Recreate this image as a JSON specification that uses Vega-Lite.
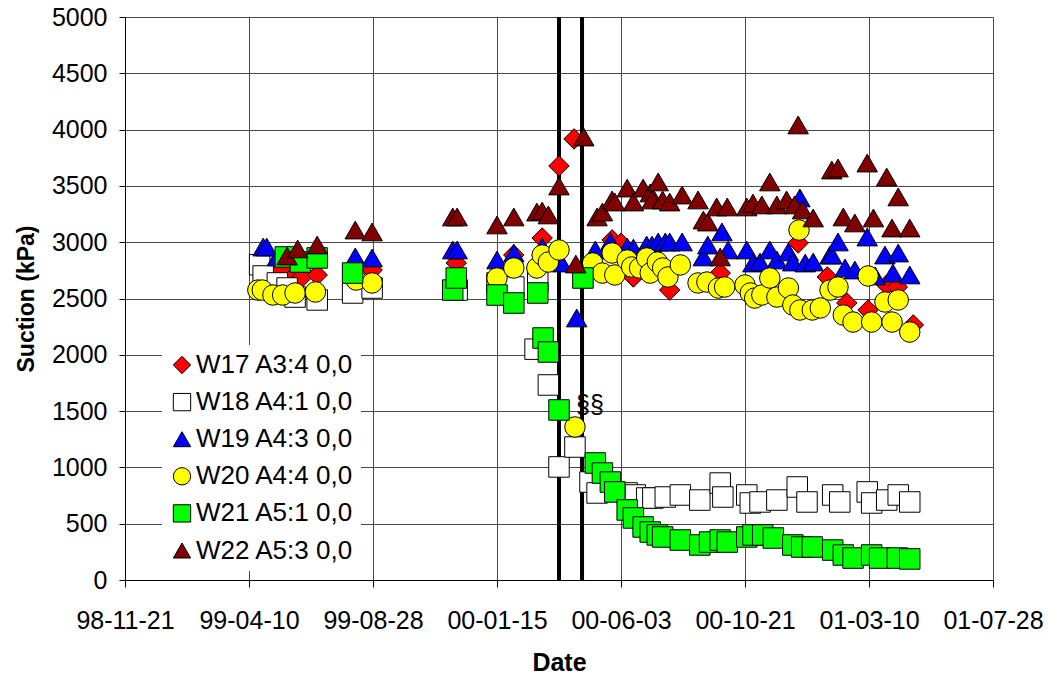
{
  "$schema": "https://vega.github.io/schema/vega-lite/v6.json",
  "width": 868,
  "height": 563,
  "autosize": {"type": "none"},
  "padding": {"left": 125, "top": 17, "right": 55, "bottom": 97},
  "background": "white",
  "config": {
    "font": "Liberation Sans",
    "view": {"stroke": null},
    "axis": {
      "domainColor": "black",
      "tickColor": "black",
      "gridColor": "#4a4a4a",
      "gridWidth": 1,
      "labelColor": "black",
      "titleColor": "black",
      "labelFont": "Liberation Sans",
      "titleFont": "Liberation Sans"
    }
  },
  "encoding": {
    "x": {
      "field": "d", "type": "temporal",
      "scale": {"type": "utc", "domain": [{"year": 1998, "month": 11, "date": 21, "utc": true}, {"year": 2001, "month": 7, "date": 28, "utc": true}]},
      "axis": {
        "title": "Date",
        "titleFontSize": 25, "titleFontWeight": "bold", "titlePadding": 17,
        "labelExpr": "utcFormat(datum.value, '%y-%m-%d')",
        "labelFontSize": 25, "labelPadding": 21, "tickSize": 7,
        "labelOverlap": false, "labelFlush": false,
        "values": [
          {"year": 1998, "month": 11, "date": 21, "utc": true},
          {"year": 1999, "month": 4, "date": 10, "utc": true},
          {"year": 1999, "month": 8, "date": 28, "utc": true},
          {"year": 2000, "month": 1, "date": 15, "utc": true},
          {"year": 2000, "month": 6, "date": 3, "utc": true},
          {"year": 2000, "month": 10, "date": 21, "utc": true},
          {"year": 2001, "month": 3, "date": 10, "utc": true},
          {"year": 2001, "month": 7, "date": 28, "utc": true}
        ]
      }
    }
  },
  "layer": [
    {
      "data": {"values": [{"d": "2000-03-25"}, {"d": "2000-04-20"}]},
      "mark": {"type": "rule", "color": "black", "strokeWidth": 4},
      "encoding": {}
    },
    {
      "data": {"values": [
        {"s": "W17 A3:4 0,0", "d": "1999-05-17", "v": 2753},
        {"s": "W17 A3:4 0,0", "d": "1999-05-30", "v": 2691},
        {"s": "W17 A3:4 0,0", "d": "1999-06-09", "v": 2691},
        {"s": "W17 A3:4 0,0", "d": "1999-06-26", "v": 2709},
        {"s": "W17 A3:4 0,0", "d": "1999-08-27", "v": 2753},
        {"s": "W17 A3:4 0,0", "d": "1999-11-30", "v": 2815},
        {"s": "W17 A3:4 0,0", "d": "2000-02-03", "v": 2886},
        {"s": "W17 A3:4 0,0", "d": "2000-03-06", "v": 3037},
        {"s": "W17 A3:4 0,0", "d": "2000-03-25", "v": 3677},
        {"s": "W17 A3:4 0,0", "d": "2000-04-11", "v": 3917},
        {"s": "W17 A3:4 0,0", "d": "2000-05-24", "v": 3020},
        {"s": "W17 A3:4 0,0", "d": "2000-06-03", "v": 2990},
        {"s": "W17 A3:4 0,0", "d": "2000-06-17", "v": 2691},
        {"s": "W17 A3:4 0,0", "d": "2000-07-28", "v": 2575},
        {"s": "W17 A3:4 0,0", "d": "2000-09-23", "v": 2726},
        {"s": "W17 A3:4 0,0", "d": "2000-12-20", "v": 2993},
        {"s": "W17 A3:4 0,0", "d": "2001-01-22", "v": 2691},
        {"s": "W17 A3:4 0,0", "d": "2001-02-13", "v": 2460},
        {"s": "W17 A3:4 0,0", "d": "2001-03-09", "v": 2398},
        {"s": "W17 A3:4 0,0", "d": "2001-03-30", "v": 2620},
        {"s": "W17 A3:4 0,0", "d": "2001-04-11", "v": 2602},
        {"s": "W17 A3:4 0,0", "d": "2001-04-29", "v": 2265},

        {"s": "W18 A4:1 0,0", "d": "1999-04-22", "v": 2800},
        {"s": "W18 A4:1 0,0", "d": "1999-04-26", "v": 2700},
        {"s": "W18 A4:1 0,0", "d": "1999-05-12", "v": 2638},
        {"s": "W18 A4:1 0,0", "d": "1999-05-23", "v": 2593},
        {"s": "W18 A4:1 0,0", "d": "1999-06-01", "v": 2513},
        {"s": "W18 A4:1 0,0", "d": "1999-06-26", "v": 2487},
        {"s": "W18 A4:1 0,0", "d": "1999-08-05", "v": 2549},
        {"s": "W18 A4:1 0,0", "d": "1999-08-27", "v": 2593},
        {"s": "W18 A4:1 0,0", "d": "1999-12-01", "v": 2575},
        {"s": "W18 A4:1 0,0", "d": "2000-01-15", "v": 2638},
        {"s": "W18 A4:1 0,0", "d": "2000-02-03", "v": 2602},
        {"s": "W18 A4:1 0,0", "d": "2000-02-27", "v": 2050},
        {"s": "W18 A4:1 0,0", "d": "2000-03-01", "v": 2646},
        {"s": "W18 A4:1 0,0", "d": "2000-03-13", "v": 1732},
        {"s": "W18 A4:1 0,0", "d": "2000-03-25", "v": 1004},
        {"s": "W18 A4:1 0,0", "d": "2000-04-12", "v": 1181},
        {"s": "W18 A4:1 0,0", "d": "2000-04-29", "v": 870},
        {"s": "W18 A4:1 0,0", "d": "2000-05-07", "v": 773},
        {"s": "W18 A4:1 0,0", "d": "2000-06-10", "v": 773},
        {"s": "W18 A4:1 0,0", "d": "2000-06-19", "v": 755},
        {"s": "W18 A4:1 0,0", "d": "2000-07-02", "v": 728},
        {"s": "W18 A4:1 0,0", "d": "2000-07-09", "v": 728},
        {"s": "W18 A4:1 0,0", "d": "2000-07-23", "v": 737},
        {"s": "W18 A4:1 0,0", "d": "2000-08-09", "v": 755},
        {"s": "W18 A4:1 0,0", "d": "2000-08-31", "v": 710},
        {"s": "W18 A4:1 0,0", "d": "2000-09-23", "v": 861},
        {"s": "W18 A4:1 0,0", "d": "2000-09-26", "v": 737},
        {"s": "W18 A4:1 0,0", "d": "2000-10-23", "v": 755},
        {"s": "W18 A4:1 0,0", "d": "2000-10-27", "v": 684},
        {"s": "W18 A4:1 0,0", "d": "2000-11-07", "v": 693},
        {"s": "W18 A4:1 0,0", "d": "2000-11-26", "v": 710},
        {"s": "W18 A4:1 0,0", "d": "2000-12-19", "v": 826},
        {"s": "W18 A4:1 0,0", "d": "2000-12-30", "v": 693},
        {"s": "W18 A4:1 0,0", "d": "2001-01-28", "v": 755},
        {"s": "W18 A4:1 0,0", "d": "2001-02-05", "v": 693},
        {"s": "W18 A4:1 0,0", "d": "2001-03-08", "v": 782},
        {"s": "W18 A4:1 0,0", "d": "2001-03-13", "v": 684},
        {"s": "W18 A4:1 0,0", "d": "2001-03-30", "v": 710},
        {"s": "W18 A4:1 0,0", "d": "2001-04-12", "v": 755},
        {"s": "W18 A4:1 0,0", "d": "2001-04-25", "v": 693},

        {"s": "W19 A4:3 0,0", "d": "1999-04-26", "v": 2957},
        {"s": "W19 A4:3 0,0", "d": "1999-04-30", "v": 2957},
        {"s": "W19 A4:3 0,0", "d": "1999-05-12", "v": 2869},
        {"s": "W19 A4:3 0,0", "d": "1999-08-08", "v": 2869},
        {"s": "W19 A4:3 0,0", "d": "1999-08-27", "v": 2860},
        {"s": "W19 A4:3 0,0", "d": "1999-11-26", "v": 2931},
        {"s": "W19 A4:3 0,0", "d": "1999-12-01", "v": 2931},
        {"s": "W19 A4:3 0,0", "d": "2000-01-15", "v": 2842},
        {"s": "W19 A4:3 0,0", "d": "2000-02-03", "v": 2904},
        {"s": "W19 A4:3 0,0", "d": "2000-03-06", "v": 2957},
        {"s": "W19 A4:3 0,0", "d": "2000-03-28", "v": 2815},
        {"s": "W19 A4:3 0,0", "d": "2000-04-14", "v": 2327},
        {"s": "W19 A4:3 0,0", "d": "2000-05-05", "v": 2931},
        {"s": "W19 A4:3 0,0", "d": "2000-05-22", "v": 3002},
        {"s": "W19 A4:3 0,0", "d": "2000-06-10", "v": 2957},
        {"s": "W19 A4:3 0,0", "d": "2000-06-17", "v": 2948},
        {"s": "W19 A4:3 0,0", "d": "2000-07-02", "v": 2975},
        {"s": "W19 A4:3 0,0", "d": "2000-07-08", "v": 2975},
        {"s": "W19 A4:3 0,0", "d": "2000-07-15", "v": 3002},
        {"s": "W19 A4:3 0,0", "d": "2000-07-23", "v": 3002},
        {"s": "W19 A4:3 0,0", "d": "2000-07-28", "v": 3002},
        {"s": "W19 A4:3 0,0", "d": "2000-08-11", "v": 3002},
        {"s": "W19 A4:3 0,0", "d": "2000-09-04", "v": 2869},
        {"s": "W19 A4:3 0,0", "d": "2000-09-09", "v": 2975},
        {"s": "W19 A4:3 0,0", "d": "2000-09-25", "v": 3091},
        {"s": "W19 A4:3 0,0", "d": "2000-10-02", "v": 2931},
        {"s": "W19 A4:3 0,0", "d": "2000-10-23", "v": 2931},
        {"s": "W19 A4:3 0,0", "d": "2000-10-30", "v": 2815},
        {"s": "W19 A4:3 0,0", "d": "2000-11-07", "v": 2824},
        {"s": "W19 A4:3 0,0", "d": "2000-11-18", "v": 2931},
        {"s": "W19 A4:3 0,0", "d": "2000-11-26", "v": 2842},
        {"s": "W19 A4:3 0,0", "d": "2000-12-09", "v": 2913},
        {"s": "W19 A4:3 0,0", "d": "2000-12-14", "v": 2824},
        {"s": "W19 A4:3 0,0", "d": "2000-12-22", "v": 3393},
        {"s": "W19 A4:3 0,0", "d": "2000-12-28", "v": 2815},
        {"s": "W19 A4:3 0,0", "d": "2001-01-06", "v": 2824},
        {"s": "W19 A4:3 0,0", "d": "2001-01-25", "v": 2886},
        {"s": "W19 A4:3 0,0", "d": "2001-01-27", "v": 2886},
        {"s": "W19 A4:3 0,0", "d": "2001-02-03", "v": 3002},
        {"s": "W19 A4:3 0,0", "d": "2001-02-11", "v": 2771},
        {"s": "W19 A4:3 0,0", "d": "2001-02-22", "v": 2753},
        {"s": "W19 A4:3 0,0", "d": "2001-03-08", "v": 3046},
        {"s": "W19 A4:3 0,0", "d": "2001-03-17", "v": 2700},
        {"s": "W19 A4:3 0,0", "d": "2001-03-28", "v": 2886},
        {"s": "W19 A4:3 0,0", "d": "2001-04-06", "v": 2726},
        {"s": "W19 A4:3 0,0", "d": "2001-04-12", "v": 2904},
        {"s": "W19 A4:3 0,0", "d": "2001-04-25", "v": 2709},

        {"s": "W20 A4:4 0,0", "d": "1999-04-20", "v": 2575},
        {"s": "W20 A4:4 0,0", "d": "1999-04-25", "v": 2575},
        {"s": "W20 A4:4 0,0", "d": "1999-05-07", "v": 2531},
        {"s": "W20 A4:4 0,0", "d": "1999-05-18", "v": 2531},
        {"s": "W20 A4:4 0,0", "d": "1999-06-01", "v": 2549},
        {"s": "W20 A4:4 0,0", "d": "1999-06-24", "v": 2558},
        {"s": "W20 A4:4 0,0", "d": "1999-08-09", "v": 2664},
        {"s": "W20 A4:4 0,0", "d": "1999-08-27", "v": 2638},
        {"s": "W20 A4:4 0,0", "d": "2000-01-15", "v": 2682},
        {"s": "W20 A4:4 0,0", "d": "2000-02-03", "v": 2771},
        {"s": "W20 A4:4 0,0", "d": "2000-02-29", "v": 2771},
        {"s": "W20 A4:4 0,0", "d": "2000-03-06", "v": 2886},
        {"s": "W20 A4:4 0,0", "d": "2000-03-13", "v": 2824},
        {"s": "W20 A4:4 0,0", "d": "2000-03-25", "v": 2931},
        {"s": "W20 A4:4 0,0", "d": "2000-04-12", "v": 1359},
        {"s": "W20 A4:4 0,0", "d": "2000-05-02", "v": 2815},
        {"s": "W20 A4:4 0,0", "d": "2000-05-13", "v": 2726},
        {"s": "W20 A4:4 0,0", "d": "2000-05-24", "v": 2904},
        {"s": "W20 A4:4 0,0", "d": "2000-05-27", "v": 2709},
        {"s": "W20 A4:4 0,0", "d": "2000-06-10", "v": 2842},
        {"s": "W20 A4:4 0,0", "d": "2000-06-15", "v": 2780},
        {"s": "W20 A4:4 0,0", "d": "2000-06-24", "v": 2771},
        {"s": "W20 A4:4 0,0", "d": "2000-07-02", "v": 2860},
        {"s": "W20 A4:4 0,0", "d": "2000-07-06", "v": 2726},
        {"s": "W20 A4:4 0,0", "d": "2000-07-14", "v": 2824},
        {"s": "W20 A4:4 0,0", "d": "2000-07-20", "v": 2771},
        {"s": "W20 A4:4 0,0", "d": "2000-07-26", "v": 2691},
        {"s": "W20 A4:4 0,0", "d": "2000-08-09", "v": 2798},
        {"s": "W20 A4:4 0,0", "d": "2000-08-29", "v": 2638},
        {"s": "W20 A4:4 0,0", "d": "2000-09-08", "v": 2646},
        {"s": "W20 A4:4 0,0", "d": "2000-09-21", "v": 2593},
        {"s": "W20 A4:4 0,0", "d": "2000-09-28", "v": 2602},
        {"s": "W20 A4:4 0,0", "d": "2000-10-21", "v": 2620},
        {"s": "W20 A4:4 0,0", "d": "2000-10-27", "v": 2549},
        {"s": "W20 A4:4 0,0", "d": "2000-11-01", "v": 2504},
        {"s": "W20 A4:4 0,0", "d": "2000-11-09", "v": 2531},
        {"s": "W20 A4:4 0,0", "d": "2000-11-18", "v": 2682},
        {"s": "W20 A4:4 0,0", "d": "2000-11-26", "v": 2513},
        {"s": "W20 A4:4 0,0", "d": "2000-12-09", "v": 2593},
        {"s": "W20 A4:4 0,0", "d": "2000-12-14", "v": 2442},
        {"s": "W20 A4:4 0,0", "d": "2000-12-21", "v": 3108},
        {"s": "W20 A4:4 0,0", "d": "2000-12-22", "v": 2398},
        {"s": "W20 A4:4 0,0", "d": "2001-01-05", "v": 2398},
        {"s": "W20 A4:4 0,0", "d": "2001-01-14", "v": 2416},
        {"s": "W20 A4:4 0,0", "d": "2001-01-25", "v": 2575},
        {"s": "W20 A4:4 0,0", "d": "2001-02-03", "v": 2602},
        {"s": "W20 A4:4 0,0", "d": "2001-02-09", "v": 2353},
        {"s": "W20 A4:4 0,0", "d": "2001-02-20", "v": 2291},
        {"s": "W20 A4:4 0,0", "d": "2001-03-09", "v": 2700},
        {"s": "W20 A4:4 0,0", "d": "2001-03-13", "v": 2291},
        {"s": "W20 A4:4 0,0", "d": "2001-03-28", "v": 2469},
        {"s": "W20 A4:4 0,0", "d": "2001-04-05", "v": 2291},
        {"s": "W20 A4:4 0,0", "d": "2001-04-12", "v": 2487},
        {"s": "W20 A4:4 0,0", "d": "2001-04-25", "v": 2202},

        {"s": "W21 A5:1 0,0", "d": "1999-05-21", "v": 2869},
        {"s": "W21 A5:1 0,0", "d": "1999-06-07", "v": 2824},
        {"s": "W21 A5:1 0,0", "d": "1999-06-26", "v": 2860},
        {"s": "W21 A5:1 0,0", "d": "1999-08-05", "v": 2726},
        {"s": "W21 A5:1 0,0", "d": "1999-11-26", "v": 2575},
        {"s": "W21 A5:1 0,0", "d": "1999-11-30", "v": 2682},
        {"s": "W21 A5:1 0,0", "d": "2000-01-15", "v": 2531},
        {"s": "W21 A5:1 0,0", "d": "2000-02-03", "v": 2460},
        {"s": "W21 A5:1 0,0", "d": "2000-03-01", "v": 2549},
        {"s": "W21 A5:1 0,0", "d": "2000-03-07", "v": 2149},
        {"s": "W21 A5:1 0,0", "d": "2000-03-13", "v": 2025},
        {"s": "W21 A5:1 0,0", "d": "2000-03-25", "v": 1510},
        {"s": "W21 A5:1 0,0", "d": "2000-04-21", "v": 2682},
        {"s": "W21 A5:1 0,0", "d": "2000-05-05", "v": 1039},
        {"s": "W21 A5:1 0,0", "d": "2000-05-13", "v": 950},
        {"s": "W21 A5:1 0,0", "d": "2000-05-22", "v": 870},
        {"s": "W21 A5:1 0,0", "d": "2000-05-27", "v": 782},
        {"s": "W21 A5:1 0,0", "d": "2000-06-10", "v": 622},
        {"s": "W21 A5:1 0,0", "d": "2000-06-17", "v": 551},
        {"s": "W21 A5:1 0,0", "d": "2000-06-28", "v": 471},
        {"s": "W21 A5:1 0,0", "d": "2000-07-06", "v": 426},
        {"s": "W21 A5:1 0,0", "d": "2000-07-14", "v": 400},
        {"s": "W21 A5:1 0,0", "d": "2000-07-20", "v": 382},
        {"s": "W21 A5:1 0,0", "d": "2000-08-09", "v": 355},
        {"s": "W21 A5:1 0,0", "d": "2000-08-31", "v": 311},
        {"s": "W21 A5:1 0,0", "d": "2000-09-11", "v": 337},
        {"s": "W21 A5:1 0,0", "d": "2000-09-23", "v": 355},
        {"s": "W21 A5:1 0,0", "d": "2000-10-01", "v": 337},
        {"s": "W21 A5:1 0,0", "d": "2000-10-23", "v": 382},
        {"s": "W21 A5:1 0,0", "d": "2000-10-30", "v": 400},
        {"s": "W21 A5:1 0,0", "d": "2000-11-10", "v": 400},
        {"s": "W21 A5:1 0,0", "d": "2000-11-22", "v": 373},
        {"s": "W21 A5:1 0,0", "d": "2000-12-14", "v": 311},
        {"s": "W21 A5:1 0,0", "d": "2000-12-24", "v": 293},
        {"s": "W21 A5:1 0,0", "d": "2001-01-05", "v": 293},
        {"s": "W21 A5:1 0,0", "d": "2001-01-28", "v": 266},
        {"s": "W21 A5:1 0,0", "d": "2001-02-09", "v": 222},
        {"s": "W21 A5:1 0,0", "d": "2001-02-20", "v": 195},
        {"s": "W21 A5:1 0,0", "d": "2001-03-13", "v": 222},
        {"s": "W21 A5:1 0,0", "d": "2001-03-22", "v": 195},
        {"s": "W21 A5:1 0,0", "d": "2001-04-11", "v": 195},
        {"s": "W21 A5:1 0,0", "d": "2001-04-25", "v": 187},

        {"s": "W22 A5:3 0,0", "d": "1999-05-23", "v": 2877},
        {"s": "W22 A5:3 0,0", "d": "1999-06-04", "v": 2940},
        {"s": "W22 A5:3 0,0", "d": "1999-06-26", "v": 2975},
        {"s": "W22 A5:3 0,0", "d": "1999-08-08", "v": 3108},
        {"s": "W22 A5:3 0,0", "d": "1999-08-27", "v": 3091},
        {"s": "W22 A5:3 0,0", "d": "1999-11-26", "v": 3224},
        {"s": "W22 A5:3 0,0", "d": "1999-12-01", "v": 3224},
        {"s": "W22 A5:3 0,0", "d": "2000-01-15", "v": 3153},
        {"s": "W22 A5:3 0,0", "d": "2000-02-03", "v": 3224},
        {"s": "W22 A5:3 0,0", "d": "2000-02-29", "v": 3268},
        {"s": "W22 A5:3 0,0", "d": "2000-03-06", "v": 3277},
        {"s": "W22 A5:3 0,0", "d": "2000-03-13", "v": 3242},
        {"s": "W22 A5:3 0,0", "d": "2000-03-25", "v": 3499},
        {"s": "W22 A5:3 0,0", "d": "2000-04-13", "v": 2806},
        {"s": "W22 A5:3 0,0", "d": "2000-04-22", "v": 3934},
        {"s": "W22 A5:3 0,0", "d": "2000-05-07", "v": 3224},
        {"s": "W22 A5:3 0,0", "d": "2000-05-13", "v": 3268},
        {"s": "W22 A5:3 0,0", "d": "2000-05-24", "v": 3375},
        {"s": "W22 A5:3 0,0", "d": "2000-05-27", "v": 3357},
        {"s": "W22 A5:3 0,0", "d": "2000-06-10", "v": 3481},
        {"s": "W22 A5:3 0,0", "d": "2000-06-17", "v": 3357},
        {"s": "W22 A5:3 0,0", "d": "2000-06-28", "v": 3481},
        {"s": "W22 A5:3 0,0", "d": "2000-07-06", "v": 3437},
        {"s": "W22 A5:3 0,0", "d": "2000-07-08", "v": 3375},
        {"s": "W22 A5:3 0,0", "d": "2000-07-15", "v": 3535},
        {"s": "W22 A5:3 0,0", "d": "2000-07-20", "v": 3375},
        {"s": "W22 A5:3 0,0", "d": "2000-07-28", "v": 3357},
        {"s": "W22 A5:3 0,0", "d": "2000-08-11", "v": 3419},
        {"s": "W22 A5:3 0,0", "d": "2000-08-29", "v": 3375},
        {"s": "W22 A5:3 0,0", "d": "2000-09-04", "v": 3197},
        {"s": "W22 A5:3 0,0", "d": "2000-09-09", "v": 3179},
        {"s": "W22 A5:3 0,0", "d": "2000-09-19", "v": 3313},
        {"s": "W22 A5:3 0,0", "d": "2000-09-23", "v": 2869},
        {"s": "W22 A5:3 0,0", "d": "2000-10-01", "v": 3313},
        {"s": "W22 A5:3 0,0", "d": "2000-10-23", "v": 3313},
        {"s": "W22 A5:3 0,0", "d": "2000-10-30", "v": 3348},
        {"s": "W22 A5:3 0,0", "d": "2000-11-09", "v": 3331},
        {"s": "W22 A5:3 0,0", "d": "2000-11-18", "v": 3535},
        {"s": "W22 A5:3 0,0", "d": "2000-11-26", "v": 3331},
        {"s": "W22 A5:3 0,0", "d": "2000-12-07", "v": 3375},
        {"s": "W22 A5:3 0,0", "d": "2000-12-16", "v": 3331},
        {"s": "W22 A5:3 0,0", "d": "2000-12-20", "v": 4041},
        {"s": "W22 A5:3 0,0", "d": "2000-12-25", "v": 3286},
        {"s": "W22 A5:3 0,0", "d": "2001-01-06", "v": 3215},
        {"s": "W22 A5:3 0,0", "d": "2001-01-27", "v": 3641},
        {"s": "W22 A5:3 0,0", "d": "2001-02-03", "v": 3659},
        {"s": "W22 A5:3 0,0", "d": "2001-02-09", "v": 3224},
        {"s": "W22 A5:3 0,0", "d": "2001-02-22", "v": 3171},
        {"s": "W22 A5:3 0,0", "d": "2001-03-08", "v": 3703},
        {"s": "W22 A5:3 0,0", "d": "2001-03-15", "v": 3215},
        {"s": "W22 A5:3 0,0", "d": "2001-03-30", "v": 3579},
        {"s": "W22 A5:3 0,0", "d": "2001-04-05", "v": 3126},
        {"s": "W22 A5:3 0,0", "d": "2001-04-12", "v": 3402},
        {"s": "W22 A5:3 0,0", "d": "2001-04-25", "v": 3126}
      ]},
      "mark": {"type": "point", "filled": true, "opacity": 1, "stroke": "black", "strokeWidth": 1, "size": 420},
      "encoding": {
        "y": {
          "field": "v", "type": "quantitative",
          "scale": {"domain": [0, 5000], "nice": false},
          "axis": {
            "title": "Suction (kPa)",
            "titleFontSize": 23, "titleFontWeight": "bold", "titlePadding": 13,
            "values": [0, 500, 1000, 1500, 2000, 2500, 3000, 3500, 4000, 4500, 5000],
            "format": "d",
            "labelFontSize": 25, "labelPadding": 12, "tickSize": 6
          }
        },
        "color": {
          "field": "s", "type": "nominal",
          "scale": {
            "domain": ["W17 A3:4 0,0", "W18 A4:1 0,0", "W19 A4:3 0,0", "W20 A4:4 0,0", "W21 A5:1 0,0", "W22 A5:3 0,0"],
            "range": ["#FF0000", "#FFFFFF", "#0000FF", "#FFFF00", "#00FF00", "#800000"]
          },
          "legend": {
            "title": null,
            "orient": "none", "legendX": 37, "legendY": 328,
            "fillColor": "white", "padding": 7,
            "labelFontSize": 26, "labelColor": "black", "labelOffset": 1, "labelLimit": 300,
            "symbolSize": 300, "symbolStrokeColor": "black", "symbolStrokeWidth": 1,
            "rowPadding": 11.1, "symbolOpacity": 1
          }
        },
        "shape": {
          "field": "s", "type": "nominal",
          "scale": {
            "domain": ["W17 A3:4 0,0", "W18 A4:1 0,0", "W19 A4:3 0,0", "W20 A4:4 0,0", "W21 A5:1 0,0", "W22 A5:3 0,0"],
            "range": ["diamond", "square", "triangle-up", "circle", "square", "triangle-up"]
          }
        }
      }
    },
    {
      "data": {"values": [{"d": "2000-04-29", "v": 1554, "t": "§§"}]},
      "mark": {"type": "text", "fontSize": 25, "color": "black", "align": "center", "baseline": "middle"},
      "encoding": {
        "y": {"field": "v", "type": "quantitative"},
        "text": {"field": "t"}
      }
    }
  ]
}
